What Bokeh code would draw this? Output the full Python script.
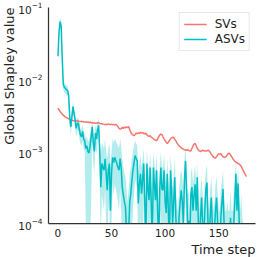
import math
from bokeh.plotting import figure
from bokeh.models import Range1d, FixedTicker, Legend, LegendItem, Title
from bokeh.embed import file_html
from bokeh.resources import INLINE

# ---- data (values in units of 1e-3) ----
sv_milli = [
    4.0, 3.8, 3.6, 3.45, 3.3, 3.2, 3.1, 3.0, 2.95, 2.9,
    2.85, 2.8, 2.75, 2.72, 2.7, 2.68, 2.66, 2.7, 2.64, 2.66,
    2.62, 2.6, 2.63, 2.58, 2.6, 2.56, 2.58, 2.55, 2.57, 2.52,
    2.55, 2.5, 2.53, 2.48, 2.5, 2.46, 2.5, 2.47, 2.52, 2.45,
    2.42, 2.44, 2.4, 2.38, 2.36, 2.4, 2.35, 2.42, 2.38, 2.36,
    2.4, 2.36, 2.38, 2.34, 2.38, 2.3, 2.22, 2.1, 2.05, 2.08,
    2.15, 2.1, 2.18, 2.12, 2.2, 2.15, 2.22, 2.0, 1.85, 1.75,
    1.7, 1.66, 1.72, 1.8, 1.76, 1.82, 1.78, 1.85, 1.8, 1.83,
    1.78, 1.75, 1.8, 1.7, 1.65, 1.62, 1.66, 1.58, 1.55, 1.5,
    1.46, 1.43, 1.41, 1.5, 1.6, 1.7, 1.74, 1.72, 1.6, 1.5,
    1.42, 1.35, 1.29, 1.35, 1.42, 1.5, 1.55, 1.58, 1.56, 1.48,
    1.4, 1.32, 1.25, 1.2, 1.16, 1.12, 1.1, 1.08, 1.06, 1.05,
    1.04, 1.06, 1.03, 1.02, 1.02, 1.1, 1.2, 1.27, 1.29, 1.2,
    1.1, 1.05, 1.02, 1.0, 1.02, 1.04, 1.02, 1.03, 1.01, 1.02,
    1.04, 1.02, 0.98, 0.92, 0.88, 0.84, 0.82, 0.81, 0.85, 0.9,
    0.93, 0.92, 0.93, 0.88, 0.85, 0.83, 0.83, 0.86, 0.9, 0.94,
    0.95, 0.9, 0.85, 0.8, 0.76, 0.73, 0.71, 0.7, 0.68, 0.67,
    0.65, 0.62, 0.58, 0.54, 0.5, 0.47, 0.45,
]

asv_milli = [
    21, 45, 64, 55, 20, 8.5, 7.8, 7.5, 7.2, 7.0,
    6.0, 3.0, 2.2, 3.0, 4.2, 3.4, 2.8, 2.1, 2.4, 2.5,
    2.0, 1.7, 1.6, 1.9, 1.5, 1.4, 1.1, 1.2, 1.0, 0.95,
    1.2, 1.6, 2.2, 1.3, 1.0, 1.8, 1.5, 2.0, 2.3, 1.0,
    0.32, 0.68, 0.6, 0.55, 0.79, 0.5, 0.29, 0.55, 0.68, 0.15,
    0.5, 0.83, 0.7, 0.83, 0.75, 0.68, 0.6, 0.55, 0.8, 0.6,
    0.32, 0.25, 0.2, 0.17, 0.08, 0.05, 0.08, 0.2, 0.26, 0.4,
    0.55, 0.7, 0.88, 0.8, 0.74, 0.19, 0.35, 0.49, 0.26, 0.4,
    0.68, 0.2, 0.05, 0.68, 0.3, 0.21, 0.6, 0.2, 0.05, 0.6,
    0.35, 0.21, 0.55, 0.15, 0.05, 0.3, 0.6, 0.3, 0.29, 0.55,
    0.2, 0.14, 0.49, 0.15, 0.05, 0.55, 0.3, 0.1, 0.2, 0.44,
    0.12, 0.06, 0.05, 0.12, 0.2, 0.29, 0.2, 0.1, 0.4, 0.74,
    0.3, 0.1, 0.11, 0.05, 0.25, 0.32, 0.15, 0.25, 0.35, 0.15,
    0.44, 0.1, 0.05, 0.12, 0.23, 0.1, 0.05, 0.15, 0.3, 0.37,
    0.1, 0.05, 0.12, 0.23, 0.1, 0.05, 0.08, 0.15, 0.23, 0.1,
    0.05, 0.05, 0.12, 0.2, 0.3, 0.1, 0.05, 0.05, 0.08, 0.05,
    0.05, 0.12, 0.05, 0.05, 0.1, 0.2, 0.49, 0.15, 0.36, 0.12,
    0.05, 0.1, 0.05, 0.05, 0.05, 0.05, 0.05,
]

asv_upper_milli = [
    24, 52, 72, 62, 24, 10, 9, 8.6, 8.3, 8.0,
    7.0, 3.6, 2.7, 3.6, 5.0, 4.0, 3.3, 2.6, 2.9, 3.0,
    2.5, 2.1, 2.0, 2.4, 1.9, 1.8, 1.5, 1.6, 1.4, 1.4,
    1.7, 2.1, 2.8, 1.8, 1.5, 2.4, 2.0, 2.6, 2.9, 1.6,
    0.9, 1.3, 1.2, 1.1, 1.5, 1.0, 0.8, 1.1, 1.3, 0.6,
    1.0, 1.5, 1.3, 1.5, 1.4, 1.3, 1.2, 1.1, 1.5, 1.2,
    0.8, 0.6, 0.5, 0.45, 0.3, 0.2, 0.3, 0.5, 0.6, 0.8,
    1.0, 1.2, 1.4, 1.3, 1.2, 0.5, 0.7, 0.9, 0.6, 0.8,
    1.1, 0.5, 0.2, 1.1, 0.6, 0.5, 1.0, 0.5, 0.2, 1.0,
    0.7, 0.5, 0.9, 0.4, 0.2, 0.6, 1.0, 0.6, 0.6, 0.9,
    0.5, 0.35, 0.8, 0.4, 0.2, 0.9, 0.6, 0.3, 0.45, 0.8,
    0.3, 0.18, 0.15, 0.3, 0.45, 0.55, 0.45, 0.25, 0.75, 1.2,
    0.6, 0.25, 0.28, 0.15, 0.5, 0.6, 0.35, 0.5, 0.65, 0.35,
    0.7, 0.25, 0.15, 0.3, 0.45, 0.25, 0.15, 0.35, 0.55, 0.65,
    0.25, 0.15, 0.3, 0.45, 0.25, 0.15, 0.2, 0.35, 0.45, 0.25,
    0.15, 0.15, 0.3, 0.4, 0.55, 0.25, 0.15, 0.15, 0.2, 0.15,
    0.15, 0.3, 0.15, 0.15, 0.25, 0.4, 0.75, 0.35, 0.6, 0.3,
    0.15, 0.25, 0.12, 0.1, 0.1, 0.1, 0.1,
]

asv_lower_milli = [
    18, 38, 56, 48, 16, 7.2, 6.6, 6.4, 6.1, 6.0,
    5.0, 2.4, 1.7, 2.4, 3.4, 2.8, 2.3, 1.6, 1.9, 2.0,
    1.5, 1.3, 1.2, 1.4, 1.1, 1.0, 0.1, 0.05, 0.02, 0.02,
    0.05, 0.2, 1.5, 0.7, 0.5, 1.2, 0.9, 1.4, 1.6, 0.4,
    0.05, 0.25, 0.2, 0.15, 0.3, 0.1, 0.03, 0.15, 0.2, 0.01,
    0.1, 0.35, 0.25, 0.35, 0.3, 0.25, 0.2, 0.15, 0.3, 0.15,
    0.03, 0.02, 0.02, 0.01, 0.01, 0.01, 0.01, 0.02, 0.03, 0.08,
    0.15, 0.25, 0.4, 0.35, 0.3, 0.02, 0.06, 0.12, 0.03, 0.08,
    0.2, 0.02, 0.01, 0.2, 0.04, 0.02, 0.15, 0.02, 0.01, 0.15,
    0.06, 0.02, 0.12, 0.01, 0.01, 0.05, 0.15, 0.05, 0.04, 0.12,
    0.02, 0.01, 0.1, 0.01, 0.01, 0.12, 0.05, 0.01, 0.02, 0.08,
    0.01, 0.01, 0.01, 0.01, 0.03, 0.06, 0.03, 0.01, 0.12, 0.3,
    0.06, 0.01, 0.01, 0.01, 0.05, 0.08, 0.02, 0.05, 0.1, 0.02,
    0.15, 0.01, 0.01, 0.01, 0.05, 0.01, 0.01, 0.02, 0.08, 0.1,
    0.01, 0.01, 0.01, 0.05, 0.01, 0.01, 0.01, 0.02, 0.05, 0.01,
    0.01, 0.01, 0.01, 0.04, 0.08, 0.01, 0.01, 0.01, 0.01, 0.01,
    0.01, 0.01, 0.01, 0.01, 0.01, 0.04, 0.2, 0.02, 0.1, 0.01,
    0.01, 0.01, 0.01, 0.01, 0.01, 0.01, 0.01,
]

series_names = ["SVs", "ASVs"]
x_ticks = [0, 50, 100, 150]
y_ticks = [1e-4, 1e-3, 1e-2, 1e-1]

steps = list(range(len(sv_milli)))
sv = [v * 1e-3 for v in sv_milli]
asv = [v * 1e-3 for v in asv_milli]
asv_up = [v * 1e-3 for v in asv_upper_milli]
asv_lo = [v * 1e-3 for v in asv_lower_milli]

SV_COLOR = "#F8766D"
ASV_COLOR = "#00BFC4"
FONT = "DejaVu Sans"

p = figure(width=257, height=257, y_axis_type="log",
           x_range=Range1d(-8.8, 184.3), y_range=Range1d(1e-4, 1e-1),
           output_backend="svg", toolbar_location=None,
           min_border_left=48, min_border_right=2,
           min_border_top=7, min_border_bottom=34)

p.background_fill_color = "white"
p.border_fill_color = "white"
p.outline_line_color = None
p.grid.visible = False

band = p.varea(x=steps, y1=asv_lo, y2=asv_up, fill_color=ASV_COLOR, fill_alpha=0.3)
r_sv = p.line(steps, sv, line_color=SV_COLOR, line_width=1.5)
r_asv = p.line(steps, asv, line_color=ASV_COLOR, line_width=1.5)

for ax in (p.xaxis[0], p.yaxis[0]):
    ax.axis_line_color = "#333333"
    ax.axis_line_width = 1.25
    ax.major_tick_out = 0
    ax.major_tick_in = 0
    ax.minor_tick_out = 0
    ax.minor_tick_in = 0
    ax.major_label_text_font = FONT
    ax.major_label_text_font_size = "10.5px"
    ax.major_label_text_color = "#222222"
p.xaxis[0].major_label_standoff = 5
p.yaxis[0].major_label_standoff = 6

p.xaxis[0].ticker = FixedTicker(ticks=x_ticks)
p.yaxis[0].ticker = FixedTicker(ticks=y_ticks)

legend = Legend(items=[LegendItem(label=series_names[0], renderers=[r_sv]),
                       LegendItem(label=series_names[1], renderers=[r_asv])],
                location="top_right", margin=5, padding=4, spacing=1,
                label_text_font=FONT, label_text_font_size="12px",
                label_text_color="#222222",
                glyph_width=23, glyph_height=14, label_height=14,
                label_standoff=8,
                border_line_color="#d0d0d0", border_line_width=1,
                background_fill_alpha=0.9)
p.add_layout(legend)

xt = Title(text="Time step", align="right", text_font=FONT, text_font_size="13px",
           text_font_style="normal", text_color="#222222", standoff=0)
yt = Title(text="Global Shapley value", align="right", text_font=FONT,
           text_font_size="13px", text_font_style="normal", text_color="#222222",
           standoff=-3)
p.add_layout(xt, "below")
p.add_layout(yt, "left")

open("out.html", "w").write(file_html(p, INLINE))
